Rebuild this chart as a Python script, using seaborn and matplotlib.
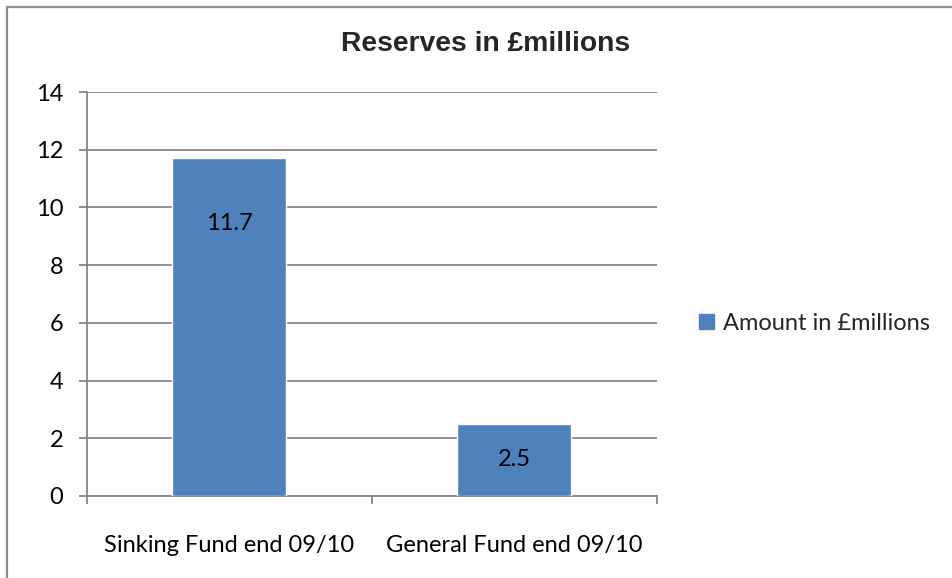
import matplotlib
matplotlib.use("Agg")
import matplotlib.pyplot as plt
from matplotlib.lines import Line2D
from matplotlib.patches import Patch
import seaborn as sns
import pandas as pd

categories = ["Sinking Fund end 09/10", "General Fund end 09/10"]
amounts = [11.7, 2.5]
value_labels = ["11.7", "2.5"]
label_y = [9.45, 1.28]
y_ticks = [0, 2, 4, 6, 8, 10, 12, 14]
series_name = "Amount in £millions"
title = "Reserves in £millions"

BAR = "#4F81BD"
GRID = "#868686"
FS = 17

sns.set_theme(style="white")
plt.rcParams["font.family"] = ["Lato", "DejaVu Sans"]

W, H = 953, 578
fig = plt.figure(figsize=(W / 100, H / 100), dpi=100)
ax = fig.add_axes([87 / W, 1 - 496 / H, (657 - 87) / W, (496 - 92) / H])

df = pd.DataFrame({"category": categories, "amount": amounts})
sns.barplot(data=df, x="category", y="amount", color=BAR, width=0.4,
            saturation=1, ax=ax, zorder=3)

ax.set_xlim(-0.5, len(categories) - 0.5)
ax.set_ylim(0, 14)
ax.set_yticks(y_ticks)
ax.yaxis.grid(True, color=GRID, linewidth=1.3, zorder=0)
ax.set_axisbelow(True)
ax.set_xlabel("")
ax.set_ylabel("")

for s in ["top", "right"]:
    ax.spines[s].set_visible(False)
for s in ["left", "bottom"]:
    ax.spines[s].set_color(GRID)
    ax.spines[s].set_linewidth(1.3)

ax.tick_params(axis="y", which="major", length=6, width=1.3, color=GRID,
               labelsize=FS, pad=11, labelcolor="black", left=True)
ax.tick_params(axis="x", which="major", length=0, labelsize=FS, pad=28,
               labelcolor="black")
ax.set_xticks([i - 0.5 for i in range(len(categories) + 1)], minor=True)
ax.tick_params(axis="x", which="minor", length=6, width=1.3, color=GRID,
               bottom=True)

for i, (txt, yy) in enumerate(zip(value_labels, label_y)):
    ax.text(i, yy, txt, ha="center", va="center", fontsize=FS,
            color="black", zorder=4)

fig.text(486 / W, 1 - 44 / H, title, ha="center", va="center",
         fontsize=20.3, fontweight="bold",
         family=["Liberation Sans", "DejaVu Sans"])

handles = [Patch(facecolor=BAR, edgecolor=BAR, label=series_name)]
fig.legend(handles=handles, loc="center left",
           bbox_to_anchor=(699 / W, 1 - 323 / H), frameon=False,
           fontsize=FS, handlelength=0.62, handleheight=0.62,
           handletextpad=0.4, borderaxespad=0, borderpad=0)

# outer chart frame (runs off the right and bottom edges)
fig.add_artist(Line2D([6.5 / W, 6.5 / W], [0, 1 - 6.5 / H],
                      transform=fig.transFigure, color="#8c8c8c", lw=1.6))
fig.add_artist(Line2D([6.5 / W, 1], [1 - 6.5 / H, 1 - 6.5 / H],
                      transform=fig.transFigure, color="#8c8c8c", lw=1.6))
fig.text(34 / W, 1 + 9 / H, "g", ha="center", va="baseline", fontsize=16,
         fontweight="bold", color="black",
         family=["Liberation Sans", "DejaVu Sans"])

fig.savefig("out.png", dpi=100)
